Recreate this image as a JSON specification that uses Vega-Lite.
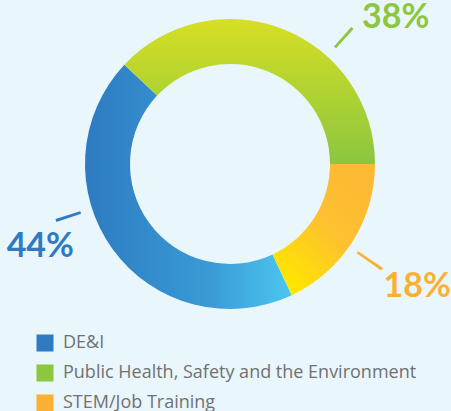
{
  "$schema": "https://vega.github.io/schema/vega-lite/v6.json",
  "width": 460,
  "height": 324,
  "padding": 0,
  "autosize": {"type": "pad"},
  "background": "#e9f6fc",
  "config": {"view": {"stroke": null}},
  "data": {"values": [
    {"category": "DE&I", "value": 44, "label": "44%"},
    {"category": "Public Health, Safety and the Environment", "value": 38, "label": "38%"},
    {"category": "STEM/Job Training", "value": 18, "label": "18%"}
  ]},
  "transform": [
    {"stack": "value", "groupby": [], "sort": [{"field": "category", "order": "ascending"}], "as": ["t0", "t1"]}
  ],
  "layer": [
    {
      "transform": [{"filter": "datum.category === 'DE&I'"}],
      "mark": {"type": "arc", "radius": 145, "radius2": 100,
        "fill": {"gradient": "linear", "x1": 0, "y1": 0, "x2": 1, "y2": 0, "stops": [{"offset": 0, "color": "#2d7bc1"}, {"offset": 0.6, "color": "#3a9ad6"}, {"offset": 1, "color": "#4cc6f0"}]}},
      "encoding": {
        "theta": {"field": "t0", "type": "quantitative", "stack": null, "scale": {"domain": [0, 100], "range": [2.7018, 8.985]}},
        "theta2": {"field": "t1"}
      }
    },
    {
      "transform": [{"filter": "datum.category === 'Public Health, Safety and the Environment'"}],
      "mark": {"type": "arc", "radius": 145, "radius2": 100,
        "fill": {"gradient": "linear", "x1": 0, "y1": 0, "x2": 0, "y2": 1, "stops": [{"offset": 0, "color": "#d6df24"}, {"offset": 1, "color": "#8cc63f"}]}},
      "encoding": {
        "theta": {"field": "t0", "type": "quantitative", "stack": null},
        "theta2": {"field": "t1"}
      }
    },
    {
      "transform": [{"filter": "datum.category === 'STEM/Job Training'"}],
      "mark": {"type": "arc", "radius": 145, "radius2": 100,
        "fill": {"gradient": "linear", "x1": 0.2, "y1": 0.95, "x2": 0.8, "y2": 0.1, "stops": [{"offset": 0, "color": "#ffe600"}, {"offset": 0.55, "color": "#fec12f"}, {"offset": 1, "color": "#fdb933"}]}},
      "encoding": {
        "theta": {"field": "t0", "type": "quantitative", "stack": null},
        "theta2": {"field": "t1"}
      }
    },
    {
      "transform": [{"filter": "datum.category === 'DE&I'"}],
      "mark": {"type": "arc", "radius": 183, "radius2": 157, "thetaOffset": 1.688, "theta2Offset": 1.705, "fill": "#2e7bc1"},
      "encoding": {
        "theta": {"field": "t0", "type": "quantitative", "stack": null},
        "theta2": {"field": "t0"}
      }
    },
    {
      "transform": [{"filter": "datum.category === 'Public Health, Safety and the Environment'"}],
      "mark": {"type": "arc", "radius": 183, "radius2": 157, "thetaOffset": 1.541, "theta2Offset": 1.558, "fill": "#8dc63f"},
      "encoding": {
        "theta": {"field": "t0", "type": "quantitative", "stack": null},
        "theta2": {"field": "t0"}
      }
    },
    {
      "transform": [{"filter": "datum.category === 'STEM/Job Training'"}],
      "mark": {"type": "arc", "radius": 185, "radius2": 155, "thetaOffset": 0.597, "theta2Offset": 0.614, "fill": "#fbb034"},
      "encoding": {
        "theta": {"field": "t0", "type": "quantitative", "stack": null},
        "theta2": {"field": "t0"}
      }
    },
    {
      "transform": [{"filter": "datum.category === 'DE&I'"}],
      "mark": {"type": "text", "radius": 207, "thetaOffset": 1.599, "font": "Lato", "fontWeight": "bold", "fontSize": 34, "align": "center", "baseline": "middle"},
      "encoding": {
        "theta": {"field": "t0", "type": "quantitative", "stack": null},
        "text": {"field": "label"},
        "color": {"field": "category", "type": "nominal", "scale": {"domain": ["DE&I", "Public Health, Safety and the Environment", "STEM/Job Training"], "range": ["#2e7bc1", "#8dc63f", "#fbb034"]},
          "legend": {"orient": "none", "legendX": 36, "legendY": 332, "title": null, "symbolType": "square", "symbolSize": 289, "symbolStrokeWidth": 0, "labelFont": "Open Sans", "labelFontSize": 18, "labelColor": "#707173", "labelOffset": 9, "labelLimit": 0, "rowPadding": 12}
        }
      }
    },
    {
      "transform": [{"filter": "datum.category === 'Public Health, Safety and the Environment'"}],
      "mark": {"type": "text", "radius": 221, "thetaOffset": 1.665, "font": "Lato", "fontWeight": "bold", "fontSize": 34, "align": "center", "baseline": "middle"},
      "encoding": {
        "theta": {"field": "t0", "type": "quantitative", "stack": null},
        "text": {"field": "label"},
        "color": {"field": "category", "type": "nominal"}
      }
    },
    {
      "transform": [{"filter": "datum.category === 'STEM/Job Training'"}],
      "mark": {"type": "text", "radius": 224, "thetaOffset": 0.581, "font": "Lato", "fontWeight": "bold", "fontSize": 34, "align": "center", "baseline": "middle"},
      "encoding": {
        "theta": {"field": "t0", "type": "quantitative", "stack": null},
        "text": {"field": "label"},
        "color": {"field": "category", "type": "nominal"}
      }
    }
  ]
}
